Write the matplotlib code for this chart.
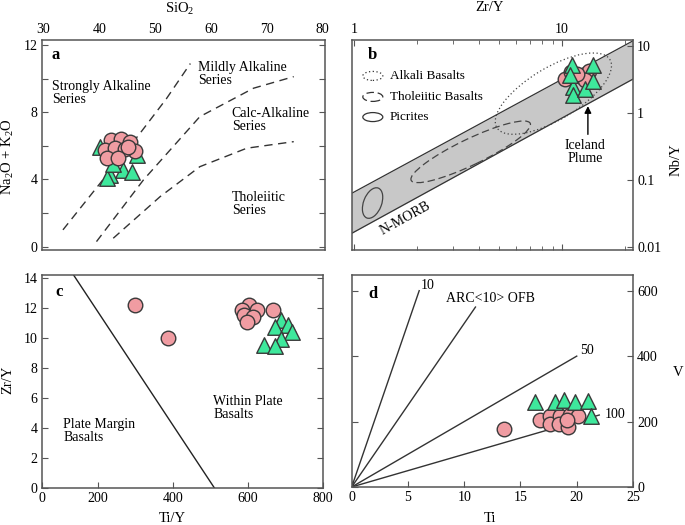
import numpy as np
import matplotlib
matplotlib.use('Agg')
import matplotlib.pyplot as plt
from matplotlib.patches import Ellipse
from matplotlib import transforms

plt.rcParams['font.family'] = ['Liberation Serif', 'DejaVu Serif']
plt.rcParams['mathtext.fontset'] = 'custom'
plt.rcParams['mathtext.rm'] = 'Liberation Serif'
plt.rcParams['mathtext.it'] = 'Liberation Serif:italic'
plt.rcParams['font.size'] = 10

# --- panel a : SiO2 vs Na2O+K2O ---
a_circ_si = [42.1, 43.9, 45.5, 46.4, 41.1, 42.9, 44.6, 41.3, 43.4, 45.2]
a_circ_alk = [6.35, 6.41, 6.25, 5.70, 5.76, 5.89, 5.82, 5.28, 5.30, 5.95]
a_tri_si = [40.1, 46.7, 41.9, 41.3, 44.2, 45.8, 42.5]
a_tri_alk = [5.95, 5.46, 4.27, 4.07, 4.57, 4.46, 4.9]
line1_si = [33.5, 38.3, 47.3, 52.0, 56.3]
line1_alk = [1.0, 3.0, 6.75, 8.8, 10.9]
line2_si = [39.5, 47.9, 58.0, 67.6, 74.8]
line2_alk = [0.30, 3.97, 7.74, 9.43, 10.12]
line3_si = [42.5, 50.9, 58.0, 66.4, 74.8]
line3_alk = [0.5, 2.98, 4.76, 5.86, 6.25]

# --- panel b : Zr/Y vs Nb/Y ---
b_circ_zr = [10.3, 11.0, 12.4, 13.4, 12.9, 11.8]
b_circ_nb = [3.3, 4.1, 3.5, 4.3, 3.1, 3.9]
b_tri_zr = [11.1, 14.1, 11.3, 11.3, 12.9, 14.1, 10.9]
b_tri_nb = [5.2, 5.2, 2.47, 1.86, 2.34, 3.09, 3.69]
band_zr = [0.9, 25.0]
band_upper = [0.0553, 15.2]
band_lower = [0.0139, 4.08]
# field ellipses: name, centre (Zr/Y, Nb/Y), width, height (inch), angle, style
fields = [
    ('Alkali Basalts', 9.08, 1.97, 1.32, 0.52, 31, (0, (1, 2))),
    ('Tholeiitic Basalts', 3.64, 0.265, 1.32, 0.26, 25.6, (0, (6, 3))),
    ('Picrites', 1.23, 0.0454, 0.32, 0.18, 69, '-'),
]

# --- panel c : Ti/Y vs Zr/Y ---
c_circ_ti = [602, 584, 624, 589, 615, 597, 668, 300, 388]
c_circ_zr = [12.18, 11.85, 11.89, 11.51, 11.4, 11.07, 11.85, 12.18, 10.03]
c_tri_ti = [690, 708, 673, 718, 690, 642, 673]
c_tri_zr = [11.18, 10.85, 10.73, 10.4, 9.96, 9.51, 9.47]
c_line_ti = [135, 511]
c_line_zr = [14.2, 0]

# --- panel d : Ti vs V ---
d_circ_ti = [13.5, 16.7, 17.6, 17.6, 18.5, 18.4, 19.25, 19.4, 20.1, 19.1]
d_circ_v = [177, 205, 218, 192, 218, 192, 182, 221, 218, 205]
d_tri_ti = [16.3, 18.1, 18.9, 19.85, 21.0, 21.3]
d_tri_v = [259, 259, 266, 259, 262, 216]
tiv_ratios = [10, 20, 50, 100]
tiv_end_ti = [6.0, 11.0, 20.0, 22.0]

circ_kw = dict(marker='o', s=110, facecolor='#f09ca2', edgecolor='#3a3a3a', linewidth=1.0)
tri_kw = dict(marker='^', s=125, facecolor='#3ee89c', edgecolor='#3a3a3a', linewidth=1.0)
spine_col = '#555555'


def style_axes(ax):
    for sp in ax.spines.values():
        sp.set_color(spine_col)
        sp.set_linewidth(1.1)
    ax.tick_params(which='both', direction='in', color=spine_col, labelsize=10, pad=3)
    ax.tick_params(which='major', length=4)
    ax.tick_params(which='minor', length=3)


def place_labels(ax, xc, yc):
    # put axis labels at given axes-fraction centres
    ax.xaxis.set_label_coords(*xc)
    ax.yaxis.set_label_coords(*yc)
    for lab in (ax.xaxis.label, ax.yaxis.label):
        lab.set_va('center')
        lab.set_ha('center')


fig = plt.figure(figsize=(6.85, 5.25), dpi=100)
ax_a = fig.add_axes([0.0609, 0.5238, 0.4136, 0.4])
ax_b = fig.add_axes([0.5139, 0.5238, 0.4102, 0.4])
ax_c = fig.add_axes([0.0609, 0.0705, 0.4102, 0.4057])
ax_d = fig.add_axes([0.5134, 0.0724, 0.4107, 0.4038])

# ---------------- a ----------------
ax = ax_a
style_axes(ax)
for xs, ys in [(line1_si, line1_alk), (line2_si, line2_alk), (line3_si, line3_alk)]:
    ax.plot(xs, ys, color='#333333', lw=1.0, dashes=(6, 4))
ax.scatter(a_tri_si, a_tri_alk, zorder=3, **tri_kw)
ax.scatter(a_circ_si, a_circ_alk, zorder=4, **circ_kw)
ax.set_xlim(29.7, 80.4)
ax.set_ylim(-0.2, 12.3)
ax.set_xticks([30, 40, 50, 60, 70, 80])
ax.set_yticks([0, 2, 4, 6, 8, 10, 12], ['0', '', '4', '', '8', '', '12'])
ax.xaxis.tick_top()
ax.tick_params(axis='x', length=0)
ax.tick_params(axis='y', left=True, right=True)
ax.set_xlabel('SiO$_2$', fontsize=10.5)
ax.xaxis.set_label_position('top')
ax.set_ylabel('Na$_2$O + K$_2$O', fontsize=10.5)
place_labels(ax, (0.488, 1.146), (-0.118, 0.444))
ax.text(0.036, 0.929, 'a', transform=ax.transAxes, fontsize=12, fontweight='bold', va='center')
ax.text(31.5, 9.13, 'Strongly Alkaline\nSeries', va='center', linespacing=1.0)
ax.text(57.7, 10.27, 'Mildly Alkaline\nSeries', va='center', linespacing=1.0)
ax.text(63.7, 7.51, 'Calc-Alkaline\nSeries', va='center', linespacing=1.0)
ax.text(63.7, 2.53, 'Tholeiitic\nSeries', va='center', linespacing=1.0)

# ---------------- b ----------------
ax = ax_b
style_axes(ax)
ax.set_xscale('log')
ax.set_yscale('log')
ax.set_xlim(0.98, 21.9)
ax.set_ylim(0.009, 12.5)
ax.fill_between(band_zr, band_lower, band_upper, color='#c8c8c8', lw=0, zorder=1)
ax.plot(band_zr, band_upper, color='#333333', lw=0.9, zorder=2)
ax.plot(band_zr, band_lower, color='#333333', lw=0.9, zorder=2)
for name, cx, cy, w, h, ang, ls in fields:
    tr = fig.dpi_scale_trans + transforms.ScaledTranslation(cx, cy, ax.transData)
    ax.add_patch(Ellipse((0, 0), w, h, angle=ang, transform=tr, fill=False,
                         edgecolor='#444444', lw=0.9, linestyle=ls, zorder=3))
leg_y = [0.829, 0.729, 0.633]
for (name, cx, cy, w, h, ang, ls), ly in zip(fields, leg_y):
    tr = fig.dpi_scale_trans + transforms.ScaledTranslation(0.074, ly, ax.transAxes)
    ax.add_patch(Ellipse((0, 0), 0.2, 0.09, transform=tr, fill=False,
                         edgecolor='#333333', lw=0.9, linestyle=ls))
    ax.text(0.135, ly, name, transform=ax.transAxes, va='center', fontsize=9.5)
ax.scatter(b_circ_zr, b_circ_nb, zorder=4, **circ_kw)
ax.scatter(b_tri_zr, b_tri_nb, zorder=5, **tri_kw)
ax.annotate('', xy=(13.3, 1.41), xytext=(13.3, 0.44),
            arrowprops=dict(arrowstyle='-|>', color='black', lw=1.0, mutation_scale=10), zorder=6)
ax.text(12.9, 0.262, 'Iceland\nPlume', ha='center', va='center', linespacing=1.0)
ax.text(1.76, 0.0271, 'N-MORB', ha='center', va='center', rotation=29)
ax.text(0.057, 0.929, 'b', transform=ax.transAxes, fontsize=12, fontweight='bold', va='center')
ax.set_xticks([1, 10], ['1', '10'])
ax.set_xticks([2, 3, 4, 5, 6, 7, 8, 9, 20], minor=True)
ax.xaxis.set_minor_formatter(matplotlib.ticker.NullFormatter())
ax.tick_params(axis='x', which='both', top=True, bottom=True, labeltop=True, labelbottom=False)
ax.set_yticks([0.01, 0.1, 1, 10], ['0.01', '0.1', '1', '10'])
ax.yaxis.set_minor_locator(matplotlib.ticker.NullLocator())
ax.tick_params(axis='y', left=False, right=True, labelleft=False, labelright=True)
ax.set_xlabel('Zr/Y', fontsize=10.5)
ax.xaxis.set_label_position('top')
ax.set_ylabel('Nb/Y', fontsize=10.5)
ax.yaxis.set_label_position('right')
place_labels(ax, (0.491, 1.156), (1.155, 0.43))

# ---------------- c ----------------
ax = ax_c
style_axes(ax)
ax.plot(c_line_ti, c_line_zr, color='#222222', lw=1.0)
ax.scatter(c_circ_ti, c_circ_zr, zorder=4, **circ_kw)
ax.scatter(c_tri_ti, c_tri_zr, zorder=5, **tri_kw)
ax.set_xlim(50, 800)
ax.set_ylim(0, 14.2)
ax.set_xticks([50, 200, 400, 600, 800], ['0', '200', '400', '600', '800'])
ax.set_yticks(range(0, 15, 2))
ax.tick_params(axis='y', left=True, right=True)
ax.set_xlabel('Ti/Y', fontsize=10.5)
ax.set_ylabel('Zr/Y', fontsize=10.5)
place_labels(ax, (0.463, -0.142), (-0.119, 0.507))
ax.text(0.047, 0.92, 'c', transform=ax.transAxes, fontsize=12, fontweight='bold', va='center')
ax.text(107.6, 3.79, 'Plate Margin\nBasalts', va='center', linespacing=1.0)
ax.text(507.6, 5.31, 'Within Plate\nBasalts', va='center', linespacing=1.0)

# ---------------- d ----------------
ax = ax_d
style_axes(ax)
for r, te in zip(tiv_ratios, tiv_end_ti):
    ti = np.array([0, te])
    ax.plot(ti, ti * 1000 / r, color='#333333', lw=1.0)
ax.scatter(d_circ_ti, d_circ_v, zorder=4, **circ_kw)
ax.scatter(d_tri_ti, d_tri_v, zorder=5, **tri_kw)
ax.set_xlim(0, 25)
ax.set_ylim(0, 648)
ax.set_xticks([0, 5, 10, 15, 20, 25])
ax.set_yticks([0, 200, 400, 600])
ax.tick_params(axis='y', left=True, right=True, labelleft=False, labelright=True)
ax.text(6.1, 617, '10', va='center')
ax.text(8.4, 576, 'ARC<10> OFB', va='center')
ax.text(20.3, 417, '50', va='center')
ax.text(22.5, 221, '100', va='center')
ax.text(0.059, 0.912, 'd', transform=ax.transAxes, fontsize=12, fontweight='bold', va='center')
ax.set_xlabel('Ti', fontsize=10.5)
ax.set_ylabel('V', fontsize=10.5, rotation=0)
ax.yaxis.set_label_position('right')
place_labels(ax, (0.492, -0.148), (1.16, 0.54))

fig.savefig('out.png', dpi=100)
